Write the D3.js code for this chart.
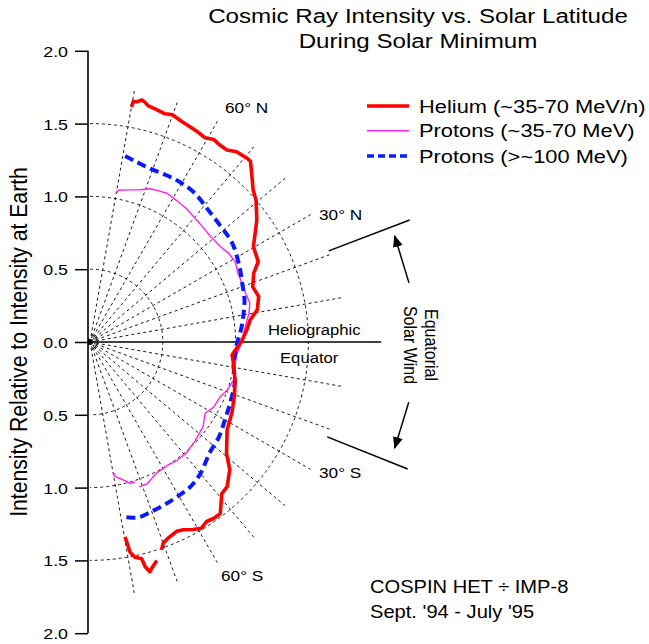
<!DOCTYPE html>
<html>
<head>
<meta charset="utf-8">
<script src="https://cdn.jsdelivr.net/npm/d3@7"></script>
<style>
  html, body { margin: 0; padding: 0; background: #fff; }
  svg { display: block; font-family: "Liberation Sans", Arial, Helvetica, sans-serif; }
</style>
</head>
<body>
<svg id="chart" width="649" height="644"></svg>
<script>
// ---------------- DATA ----------------
// Helium (~35-70 MeV/n): heliographic latitude (deg) and intensity relative to Earth (null = data gap)
const heliumLat = [80.0, 79.8, 79.0, 77.9, 77.1, 76.1, 74.0, 71.8, 70.2, 68.8, 67.4, 65.1, 62.6, 60.6, 58.6, 56.6, 54.5, 52.4, 49.5, 48.4, 45.6, 42.9, 40.5, 36.2, 30.3, 25.5, 22.8, 18.7, 15.1, 10.9, 7.8, 4.4, 0.1, -3.2, -5.2, -7.2, -14.7, -20.7, -26.7, -32.8, -39.2, -42.4, -46.6, -49.0, -52.8, -55.0, -57.0, -59.1, -61.2, -63.6, -65.4, -68.3, -70.0, -71.0, null, -73.0, -74.3, -75.4, -76.2, -76.6, -78.2, -79.2, -79.8];
const heliumVal = [1.64, 1.68, 1.68, 1.70, 1.69, 1.67, 1.66, 1.65, 1.66, 1.65, 1.64, 1.63, 1.62, 1.61, 1.63, 1.62, 1.62, 1.65, 1.66, 1.66, 1.59, 1.53, 1.50, 1.42, 1.30, 1.28, 1.22, 1.18, 1.20, 1.17, 1.11, 1.08, 1.04, 1.00, 0.98, 0.99, 1.03, 1.06, 1.09, 1.12, 1.21, 1.30, 1.37, 1.38, 1.48, 1.48, 1.47, 1.49, 1.47, 1.44, 1.43, 1.45, 1.47, 1.51, null, 1.57, 1.60, 1.63, 1.59, 1.53, 1.51, 1.47, 1.36];

// Protons (~35-70 MeV)
const protonLowLat = [79.8, 79.5, 75.3, 71.9, 68.7, 65.8, 62.7, 58.6, 54.1, 47.2, 41.3, 36.2, 32.7, 29.0, 24.9, 21.2, 17.4, 13.7, 10.3, 6.8, 2.0, -1.8, -5.1, -9.7, -14.9, -19.1, -22.8, -27.7, -31.8, -36.8, -43.0, -49.0, -53.7, -57.5, -63.1, -68.1, -71.2, null, -72.2, -74.3, -75.3, -77.6, -79.5, -79.8];
const protonLowVal = [1.04, 1.06, 1.08, 1.10, 1.13, 1.14, 1.15, 1.14, 1.13, 1.11, 1.10, 1.11, 1.13, 1.14, 1.12, 1.12, 1.12, 1.13, 1.11, 1.08, 1.05, 1.03, 1.01, 1.01, 1.02, 1.00, 0.97, 0.96, 0.93, 0.97, 0.99, 1.01, 1.01, 1.00, 1.01, 1.05, 1.05, null, 1.01, 1.01, 0.99, 0.96, 0.94, 0.91];

// Protons (>~100 MeV)
const protonHighLat = [79.3, 76.0, 70.9, 65.8, 60.7, 54.8, 48.9, 42.0, 34.9, 26.8, 21.0, 15.3, 10.0, 4.6, -0.5, -4.5, -9.7, -14.7, -23.6, -30.0, -36.4, -42.8, -50.0, -55.3, -60.7, -65.8, -70.5, -74.5, -76.6, -79.7];
const protonHighVal = [1.30, 1.28, 1.26, 1.26, 1.26, 1.25, 1.22, 1.20, 1.19, 1.15, 1.12, 1.10, 1.07, 1.04, 1.01, 1.00, 1.00, 1.03, 1.05, 1.07, 1.10, 1.12, 1.18, 1.21, 1.22, 1.23, 1.24, 1.25, 1.24, 1.22];

const yTicks = [2.0, 1.5, 1.0, 0.5, 0.0, -0.5, -1.0, -1.5, -2.0];
const gridLatitudes = [80, 70, 60, 50, 40, 30, 20, 10, -10, -20, -30, -40, -50, -60, -70, -80];
const gridCircles = [0.5, 1.0, 1.5];
const latLabels = [{ lat: "60° N" }, { lat: "30° N" }, { lat: "30° S" }, { lat: "60° S" }];
const legendLabels = ["Helium (~35-70 MeV/n)", "Protons (~35-70 MeV)", "Protons (>~100 MeV)"];
const titleLines = ["Cosmic Ray Intensity vs. Solar Latitude", "During Solar Minimum"];
const yTitle = "Intensity Relative to Intensity at Earth";
const noteLines = ["COSPIN HET \u00F7 IMP-8", "Sept. '94 - July '95"];

// ---------------- LAYOUT ----------------
const svg = d3.select("#chart");
const SX = 1.15;                 // horizontal text stretch of original
const cx = 90, cy = 342;
const R2 = 291.2;                // pixels for intensity 2.0
const rScale = d3.scaleLinear().domain([0, 2]).range([0, R2]);
const yScale = d3.scaleLinear().domain([-2, 2]).range([cy + R2, cy - R2]);
const rad = d => d * Math.PI / 180;
const px = (lat, r) => cx + rScale(r) * Math.cos(rad(lat));
const py = (lat, r) => cy - rScale(r) * Math.sin(rad(lat));

function stext(parent, x, y, str, size, anchor, rot) {
  const g = parent.append("g")
    .attr("transform", `translate(${x},${y}) scale(${SX},1)` + (rot ? ` rotate(${rot})` : ""));
  return g.append("text").attr("font-size", size).attr("text-anchor", anchor || "start")
    .attr("fill", "#000").text(str);
}

// defs: arrow marker
const defs = svg.append("defs");
defs.append("marker").attr("id", "arrow").attr("viewBox", "0 0 12 10")
  .attr("refX", 11).attr("refY", 5).attr("markerWidth", 12).attr("markerHeight", 10)
  .attr("markerUnits", "userSpaceOnUse").attr("orient", "auto")
  .append("path").attr("d", "M0,0 L12,5 L0,10 Z").attr("fill", "#000");

// ---------------- GRID ----------------
const grid = svg.append("g").attr("transform", `translate(${cx},${cy})`)
  .attr("fill", "none").attr("stroke", "#000").attr("stroke-width", 0.9).attr("stroke-dasharray", "3,3");

gridCircles.forEach(r => {
  const p = d3.path();
  p.arc(0, 0, rScale(r), -Math.PI / 2, Math.PI / 2);
  grid.append("path").attr("d", p.toString());
});

const radial = d3.lineRadial().angle(d => rad(90 - d.lat)).radius(d => rScale(d.r));
gridLatitudes.forEach(lat => {
  grid.append("path").attr("d", radial([{ lat, r: 0 }, { lat, r: 1.75 }]));
});

// small concentric marks at origin
[5, 7.5].forEach(r => {
  const p = d3.path();
  p.arc(0, 0, r, -Math.PI / 2.3, Math.PI / 2.3);
  svg.append("path").attr("transform", `translate(${cx},${cy})`).attr("d", p.toString())
    .attr("fill", "none").attr("stroke", "#222").attr("stroke-width", 1.2).attr("stroke-dasharray", "1.5,1");
});
svg.append("path").attr("d", `M${cx - 2},${cy - 4} L${cx + 4},${cy} L${cx - 2},${cy + 4} Z`).attr("fill", "#000");

// equator solid line
svg.append("line").attr("x1", px(0, 0)).attr("y1", py(0, 0)).attr("x2", px(0, 2.0)).attr("y2", py(0, 2.0))
  .attr("stroke", "#000").attr("stroke-width", 1.5);

// equatorial solar wind boundaries
[20.9, -21.8].forEach(a => {
  svg.append("line").attr("x1", px(a, 1.755)).attr("y1", py(a, 1.755)).attr("x2", px(a, 2.35)).attr("y2", py(a, 2.35))
    .attr("stroke", "#000").attr("stroke-width", 1.5);
});
// arrows
[[10.5, 19.2], [-10.7, -19.2]].forEach(([a0, a1]) => {
  svg.append("line").attr("x1", px(a0, 2.228)).attr("y1", py(a0, 2.228))
    .attr("x2", px(a1, 2.216)).attr("y2", py(a1, 2.216))
    .attr("stroke", "#000").attr("stroke-width", 1.5).attr("marker-end", "url(#arrow)");
});

// ---------------- Y AXIS ----------------
const axis = d3.axisLeft(yScale).tickValues(yTicks).tickSize(13).tickPadding(0)
  .tickFormat(d => Math.abs(d).toFixed(1));
const axG = svg.append("g").attr("transform", "translate(88,0)").call(axis);
axG.select(".domain").attr("stroke", "#000").attr("stroke-width", 1.6).attr("d", `M0,${yScale(2)}V${yScale(-2)}`);
axG.selectAll(".tick line").attr("stroke", "#000").attr("stroke-width", 1.5);
axG.selectAll(".tick text").attr("x", null).attr("dy", "0.36em")
  .attr("transform", `translate(-20,0) scale(${SX},1)`)
  .attr("font-size", 15.5).attr("font-family", "Liberation Sans, Arial, sans-serif").attr("fill", "#000");

stext(svg, 27, cy, yTitle, 21.2, "middle", -90);

// ---------------- SERIES ----------------
function series(lats, vals) {
  return lats.map((lat, i) => ({ lat, r: vals[i] }));
}
const curve = d3.lineRadial().defined(d => d.lat !== null && d.r !== null)
  .angle(d => rad(90 - d.lat)).radius(d => rScale(d.r));
const plot = svg.append("g").attr("transform", `translate(${cx},${cy})`).attr("fill", "none");

plot.append("path").attr("d", curve.curve(d3.curveLinear)(series(protonLowLat, protonLowVal)))
  .attr("stroke", "#ff22ee").attr("stroke-width", 1.4);
plot.append("path").attr("d", curve.curve(d3.curveCatmullRom)(series(protonHighLat, protonHighVal)))
  .attr("stroke", "#0a1aff").attr("stroke-width", 4).attr("stroke-dasharray", "9,5");
plot.append("path").attr("d", curve.curve(d3.curveLinear)(series(heliumLat, heliumVal)))
  .attr("stroke", "#ff0000").attr("stroke-width", 3.6).attr("stroke-linejoin", "round");

// ---------------- LABELS ----------------
stext(svg, 418, 23, titleLines[0], 21, "middle");
stext(svg, 418, 48, titleLines[1], 21, "middle");

const latPos = [[225, 113], [319, 220], [319, 478], [221, 581]];
latLabels.forEach((d, i) => stext(svg, latPos[i][0], latPos[i][1], d.lat, 15, "start"));

stext(svg, 268, 335, "Heliographic", 14.5, "start");
stext(svg, 280, 363, "Equator", 14.5, "start");

stext(svg, 425, 345, "Equatorial", 16, "middle", 90);
stext(svg, 404, 345, "Solar Wind", 16, "middle", 90);

stext(svg, 370, 593, noteLines[0], 17.5, "start");
stext(svg, 370, 618, noteLines[1], 17.5, "start");

// ---------------- LEGEND ----------------
const legStyles = [
  { color: "#ff0000", w: 3.6, dash: null },
  { color: "#ff22ee", w: 1.4, dash: null },
  { color: "#0a1aff", w: 3.6, dash: "7,4" }
];
const legY = [106, 130.7, 156];
legendLabels.forEach((lab, i) => {
  const l = svg.append("line").attr("x1", 367).attr("x2", 409).attr("y1", legY[i]).attr("y2", legY[i])
    .attr("stroke", legStyles[i].color).attr("stroke-width", legStyles[i].w);
  if (legStyles[i].dash) l.attr("stroke-dasharray", legStyles[i].dash);
  stext(svg, 419, legY[i] + 6.5, lab, 19, "start");
});
</script>
</body>
</html>
